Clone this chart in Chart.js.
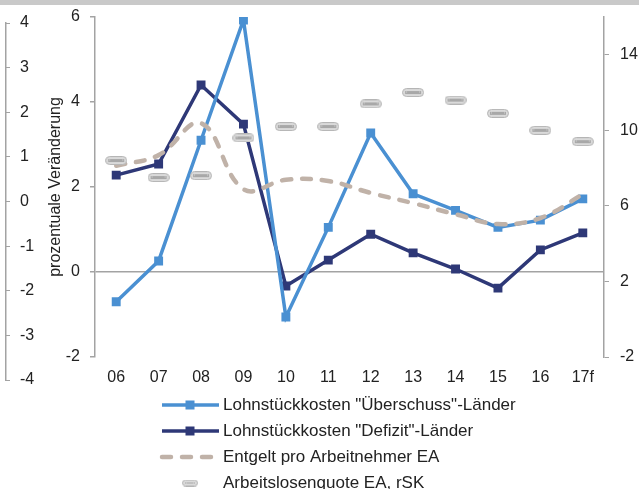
<!DOCTYPE html>
<html>
<head>
<meta charset="utf-8">
<script src="https://cdn.jsdelivr.net/npm/chart.js@4/dist/chart.umd.min.js"></script>
<style>
  html, body { margin: 0; padding: 0; background: #fff; overflow: hidden; }
  #topbar { height: 5px; background: #c9c9c9; }
  canvas { display: block; }
</style>
</head>
<body>
<div id="topbar"></div>
<canvas id="myChart" width="639" height="484"></canvas>
<script>
// years
const labels = ['06', '07', '08', '09', '10', '11', '12', '13', '14', '15', '16', '17f'];

// percentage change, left axis
const lskUeberschuss = [-0.7, 0.26, 3.1, 5.93, -1.06, 1.05, 3.27, 1.84, 1.45, 1.05, 1.22, 1.72];
const lskDefizit = [2.28, 2.54, 4.4, 3.48, -0.33, 0.28, 0.89, 0.45, 0.07, -0.38, 0.52, 0.92];
const entgelt = [2.5, 2.75, 3.5, 1.95, 2.17, 2.14, 1.86, 1.62, 1.36, 1.13, 1.27, 1.83];

// unemployment rate in %, right axis
const arbeitslosenquote = [8.4, 7.5, 7.6, 9.6, 10.2, 10.2, 11.4, 12.0, 11.6, 10.9, 10.0, 9.4];

const rightTicks = [-2, 2, 6, 10, 14];

const lightBlue = '#4a90d2';
const navy = '#2e3877';
const beige = '#c0b2a8';
const axisGray = '#a3a3a3';
const textColor = '#222';

Chart.defaults.font.family = '"Liberation Sans", Arial, sans-serif';
Chart.defaults.font.size = 16;
Chart.defaults.color = textColor;

// little grey pill used as marker for the unemployment series
function pill(w, h) {
  const c = document.createElement('canvas');
  c.width = w; c.height = h;
  const g = c.getContext('2d');
  g.beginPath();
  g.roundRect(0.5, 0.5, w - 1, h - 1, h / 2 - 0.5);
  g.fillStyle = '#dadada';
  g.fill();
  g.strokeStyle = '#b5b5b5';
  g.lineWidth = 1;
  g.stroke();
  g.fillStyle = '#a8a8a8';
  g.fillRect(3, 3, w - 6, h - 6);
  g.fillStyle = '#d6d6d6';
  g.fillRect(4, Math.floor(h / 2) - 0.5, 1, 1);
  g.fillRect(w - 5, Math.floor(h / 2) - 0.5, 1, 1);
  return c;
}
const pillBig = pill(22, 9);
const pillSmall = pill(16, 7);

// legend drawn as a single column under the axis
const columnLegend = {
  id: 'columnLegend',
  afterDraw(chart) {
    const ctx = chart.ctx;
    const x0 = 162, x1 = 219, xm = 190, xt = 223;
    let y = chart.scales.x.bottom + 18;
    ctx.save();
    ctx.font = '17px "Liberation Sans", Arial, sans-serif';
    ctx.textBaseline = 'middle';
    ctx.fillStyle = textColor;
    chart.data.datasets.forEach(ds => {
      if (ds.showLine === false) {
        ctx.drawImage(pillSmall, xm - pillSmall.width / 2, y - pillSmall.height / 2);
      } else {
        ctx.beginPath();
        ctx.setLineDash(ds.borderDash || []);
        ctx.lineCap = ds.borderDash ? 'round' : 'butt';
        ctx.lineWidth = ds.borderWidth;
        ctx.strokeStyle = ds.borderColor;
        ctx.moveTo(x0, y);
        ctx.lineTo(ds.borderDash ? x1 - 8 : x1, y);
        ctx.stroke();
        ctx.setLineDash([]);
        if (ds.pointRadius > 0) {
          ctx.fillStyle = ds.borderColor;
          ctx.fillRect(xm - 4.5, y - 4.5, 9, 9);
          ctx.fillStyle = textColor;
        }
      }
      ctx.fillText(ds.label, xt, y);
      y += 26;
    });
    ctx.restore();
  }
};

// the outer left scale is longer than the plot area
const outerAxis = {
  id: 'outerAxis',
  afterLayout(chart) {
    const s = chart.scales.yOuter;
    s.top = chart.chartArea.top + 6;
    s.bottom = chart.chartArea.bottom + 23;
    s.height = s.bottom - s.top;
    s.configure();
  }
};

// fixed widths, no extra room for overflowing labels
function fixWidth(w) {
  return s => {
    s.width = w;
    s.paddingTop = 0;
    s.paddingBottom = 0;
  };
}

const ctx = document.getElementById('myChart');
const myChart = new Chart(ctx, {
  type: 'line',
  data: {
    labels: labels,
    datasets: [{
      label: 'Lohnstückkosten "Überschuss"-Länder',
      data: lskUeberschuss,
      yAxisID: 'y',
      borderColor: lightBlue,
      backgroundColor: lightBlue,
      borderWidth: 3.5,
      pointStyle: 'rect',
      pointRadius: 6.3,
      pointBorderWidth: 0,
      order: 2
    }, {
      label: 'Lohnstückkosten "Defizit"-Länder',
      data: lskDefizit,
      yAxisID: 'y',
      borderColor: navy,
      backgroundColor: navy,
      borderWidth: 3.5,
      pointStyle: 'rect',
      pointRadius: 6.3,
      pointBorderWidth: 0,
      order: 3
    }, {
      label: 'Entgelt pro Arbeitnehmer EA',
      data: entgelt,
      yAxisID: 'y',
      borderColor: beige,
      borderWidth: 4.5,
      borderDash: [9, 11],
      borderCapStyle: 'round',
      tension: 0.4,
      pointRadius: 0,
      order: 1
    }, {
      label: 'Arbeitslosenquote EA, rSK',
      data: arbeitslosenquote,
      yAxisID: 'y2',
      showLine: false,
      pointStyle: pillBig,
      pointRadius: 5,
      order: 0
    }]
  },
  options: {
    responsive: false,
    animation: false,
    events: [],
    layout: { padding: { top: 12, bottom: 102, left: 0, right: 0 } },
    plugins: {
      legend: { display: false },
      tooltip: { enabled: false }
    },
    scales: {
      x: {
        offset: true,
        grid: { display: false, drawTicks: false },
        border: { display: false },
        ticks: { padding: 11, maxRotation: 0, autoSkip: false },
        afterFit: s => { s.height = 30; s.paddingLeft = 0; s.paddingRight = 0; }
      },
      y: {
        position: 'left',
        weight: 0,
        min: -2,
        max: 6,
        ticks: { stepSize: 2, padding: 10 },
        grid: {
          color: c => c.tick && c.tick.value === 0 ? axisGray : 'transparent',
          lineWidth: 1.5,
          tickColor: axisGray,
          tickLength: 5
        },
        border: { color: axisGray, width: 1.5 },
        title: {
          display: true,
          text: 'prozentuale Veränderung',
          font: { size: 16 },
          padding: { top: 40, bottom: 0 }
        },
        afterFit: fixWidth(89)
      },
      yOuter: {
        position: 'left',
        weight: 10,
        min: -4,
        max: 4,
        ticks: { stepSize: 1, mirror: true, padding: 14 },
        grid: { drawOnChartArea: false, tickColor: axisGray, tickLength: -4 },
        border: { color: axisGray, width: 1.5 },
        afterFit: fixWidth(6)
      },
      y2: {
        position: 'right',
        min: -2,
        max: 16,
        ticks: { padding: 11 },
        afterBuildTicks: s => { s.ticks = rightTicks.map(v => ({ value: v })); },
        grid: { drawOnChartArea: false, tickColor: axisGray, tickLength: 5 },
        border: { color: axisGray, width: 1.5 },
        afterFit: fixWidth(35)
      }
    }
  },
  plugins: [outerAxis, columnLegend]
});
</script>
</body>
</html>
